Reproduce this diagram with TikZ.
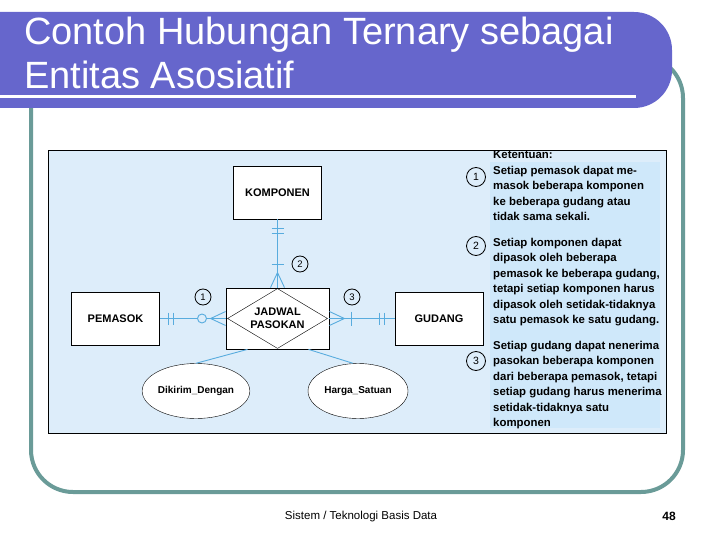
\documentclass[tikz,border=0pt]{standalone}
\usepackage{fontspec}
\setmainfont{Liberation Sans}
\usetikzlibrary{positioning,shapes.geometric,calc}
\definecolor{banner}{RGB}{102,102,204}
\definecolor{framegreen}{RGB}{106,155,152}
\definecolor{panel}{RGB}{221,237,250}
\definecolor{column}{RGB}{207,232,250}
\definecolor{erblue}{RGB}{88,172,222}
\tikzset{
	entity/.style={
		draw, fill=white, rectangle, thick,
		minimum width=88pt, minimum height=53pt,
		inner sep=0pt, text=black,
		font=\fontsize{11}{13}\selectfont\bfseries
	},
	relbox/.style={
		draw, fill=white, rectangle, thick,
		minimum width=103pt, minimum height=61pt,
		inner sep=0pt, align=center,
		font=\fontsize{11}{13}\selectfont\bfseries
	},
	attrib/.style={
		draw, fill=white, ellipse,
		minimum width=100pt, minimum height=55pt,
		inner sep=0pt, font=\fontsize{10}{12}\selectfont\bfseries
	},
	num/.style={
		draw, circle, thick, fill=panel, minimum size=16pt,
		inner sep=0pt, font=\fontsize{9.5}{10}\selectfont
	},
	rulenum/.style={num, minimum size=19pt, font=\fontsize{10.5}{11}\selectfont},
	ruletext/.style={
		anchor=north west, inner sep=0pt, align=left,
		font=\fontsize{11.4}{15.5}\selectfont\bfseries, text=black
	},
	erline/.style={draw=erblue, line width=0.9pt},
	zero/.style={draw=erblue, line width=0.9pt, circle, fill=panel,
		minimum size=9pt, inner sep=0pt}
}
\begin{document}
\begin{tikzpicture}[x=1pt,y=-1pt]
	\useasboundingbox (0,0) rectangle (720,540);
	% slide frame and title banner
	\draw[framegreen, line width=4pt, rounded corners=42pt] (31,56) rectangle (683,492);
	\fill[banner, rounded corners=38pt] (-60,12) rectangle (672,108);
	\node[anchor=base west, inner sep=0pt, text=white, font=\fontsize{38}{44}\selectfont]
		(title1) at (24,45) {Contoh Hubungan Ternary sebagai};
	\node[anchor=base west, inner sep=0pt, text=white, font=\fontsize{38}{44}\selectfont]
		(title2) at (24,89) {Entitas Asosiatif};
	\draw[white, line width=3pt] (0,97) -- (636,97);
	% picture panel
	\draw[fill=panel, thick] (48,150) rectangle (666,433);
	\fill[column] (490,162) rectangle (660,428);
	% entities
	\node[entity] (komponen) at (277.5,192.5) {KOMPONEN};
	\node[entity] (pemasok) at (115.5,318.5) {PEMASOK};
	\node[entity] (gudang) at (439,318.5) {GUDANG};
	\node[relbox] (jadwal) at (277.5,318.5) {JADWAL\\PASOKAN};
	\draw ($(jadwal.west)+(2,0)$) -- ($(jadwal.north)+(0,1)$) -- ($(jadwal.east)+(-2,0)$)
		-- ($(jadwal.south)+(0,-1)$) -- cycle;
	\node[attrib] (dikirim) at (196,391) {Dikirim\_Dengan};
	\node[attrib] (harga) at (358,391) {Harga\_Satuan};
	% komponen -- jadwal
	\draw[erline] (komponen.south) -- (jadwal.north);
	\draw[erline] ($(komponen.south)+(-6,9)$) -- ($(komponen.south)+(6,9)$);
	\draw[erline] ($(komponen.south)+(-6,14)$) -- ($(komponen.south)+(6,14)$);
	\draw[erline] ($(komponen.south)+(-6,45)$) -- ($(komponen.south)+(6,45)$);
	\draw[erline] ($(jadwal.north)+(-7,0)$) -- ($(jadwal.north)+(0,-15)$) -- ($(jadwal.north)+(7,0)$);
	\node[num] (n2) at (300,264) {2};
	% pemasok -- jadwal
	\draw[erline] (pemasok.east) -- (jadwal.west);
	\draw[erline] ($(pemasok.east)+(9,-6)$) -- ($(pemasok.east)+(9,6)$);
	\draw[erline] ($(pemasok.east)+(14,-6)$) -- ($(pemasok.east)+(14,6)$);
	\draw[erline] ($(jadwal.west)+(0,-7)$) -- ($(jadwal.west)+(-15,0)$) -- ($(jadwal.west)+(0,7)$);
	\node[zero] (opt) at (202,318.5) {};
	\node[num] (n1) at (203,297) {1};
	% gudang -- jadwal
	\draw[erline] (gudang.west) -- (jadwal.east);
	\draw[erline] ($(gudang.west)+(-15,-6)$) -- ($(gudang.west)+(-15,6)$);
	\draw[erline] ($(gudang.west)+(-10,-6)$) -- ($(gudang.west)+(-10,6)$);
	\draw[erline] ($(gudang.west)+(-43,-7)$) -- ($(gudang.west)+(-43,7)$);
	\draw[erline] ($(jadwal.east)+(0,-7)$) -- ($(jadwal.east)+(15,0)$) -- ($(jadwal.east)+(0,7)$);
	\node[num] (n3) at (352,297) {3};
	% attributes
	\draw[erline] ($(jadwal.south)+(-30,0)$) -- (dikirim.north);
	\draw[erline] ($(jadwal.south)+(31,0)$) -- ($(harga.north)+(-5,0)$);
	% rules
	\node[ruletext] (ketentuan) at (493,150.5) {Ketentuan:};
	\node[ruletext] (rule1) at (493,166) {Setiap pemasok dapat me-\\masok beberapa komponen\\ke beberapa gudang atau\\tidak sama sekali.};
	\node[ruletext] (rule2) at (493,238) {Setiap komponen dapat\\dipasok oleh beberapa\\pemasok ke beberapa gudang,\\tetapi setiap komponen harus\\dipasok oleh setidak-tidaknya\\satu pemasok ke satu gudang.};
	\node[ruletext] (rule3) at (493,341) {Setiap gudang dapat nenerima\\pasokan beberapa komponen\\dari beberapa pemasok, tetapi\\setiap gudang harus menerima\\setidak-tidaknya satu\\komponen};
	\node[rulenum] (r1) at (476,177) {1};
	\node[rulenum] (r2) at (476,246) {2};
	\node[rulenum] (r3) at (476,361) {3};
	% footer
	\node[font=\fontsize{11.5}{13}\selectfont] (footer) at (361,517) {Sistem / Teknologi Basis Data};
	\node[font=\fontsize{12}{13}\selectfont\bfseries] (page) at (669,516) {48};
\end{tikzpicture}
\end{document}
